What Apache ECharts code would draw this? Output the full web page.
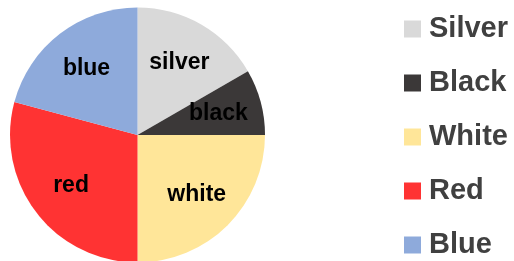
<!DOCTYPE html>
<html><head><meta charset="utf-8">
<script src="https://cdn.jsdelivr.net/npm/echarts@6/dist/echarts.min.js"></script>
<style>html,body{margin:0;padding:0;background:#fff}#c{width:514px;height:261px}</style>
</head><body><div id="c"></div>
<script>
const categories = ['Silver', 'Black', 'White', 'Red', 'Blue'];
const sliceLabels = ['silver', 'black', 'white', 'red', 'blue'];
const values = [2, 1, 3, 3.5, 2.5];
const colors = ['#d9d9d9', '#3b3838', '#ffe699', '#ff3333', '#8eaadb'];

const chart = echarts.init(document.getElementById('c'), null, {renderer: 'canvas'});
const data = categories.map((n, i) => ({name: n, value: values[i], itemStyle: {color: colors[i]}}));
const labelData = categories.map((n, i) => ({name: n, value: values[i], label: {formatter: sliceLabels[i]}}));
chart.setOption({
  animation: false,
  legend: {
    orient: 'vertical', left: 399, top: 9, height: 400,
    itemWidth: 17, itemHeight: 17, itemGap: 24,
    icon: 'rect',
    data: categories,
    textStyle: {fontFamily: 'Liberation Sans', fontWeight: 'bold', fontSize: 29, lineHeight: 30, color: '#404040', padding: [0, 0, 0, 3]}
  },
  series: [
    {
      type: 'pie', center: [137.5, 135], radius: [0, 127.5], startAngle: 90, clockwise: true,
      label: {show: false}, labelLine: {show: false}, emphasis: {disabled: true},
      data: data
    },
    {
      type: 'pie', center: [137.5, 135], radius: [34, 127.5], startAngle: 90, clockwise: true,
      silent: true, legendHoverLink: false,
      itemStyle: {color: 'rgba(0,0,0,0)'},
      label: {show: true, position: 'inside', fontFamily: 'Liberation Sans', fontWeight: 'bold', fontSize: 23, color: '#000'},
      labelLine: {show: false}, emphasis: {disabled: true},
      data: labelData
    }
  ]
});
</script></body></html>
